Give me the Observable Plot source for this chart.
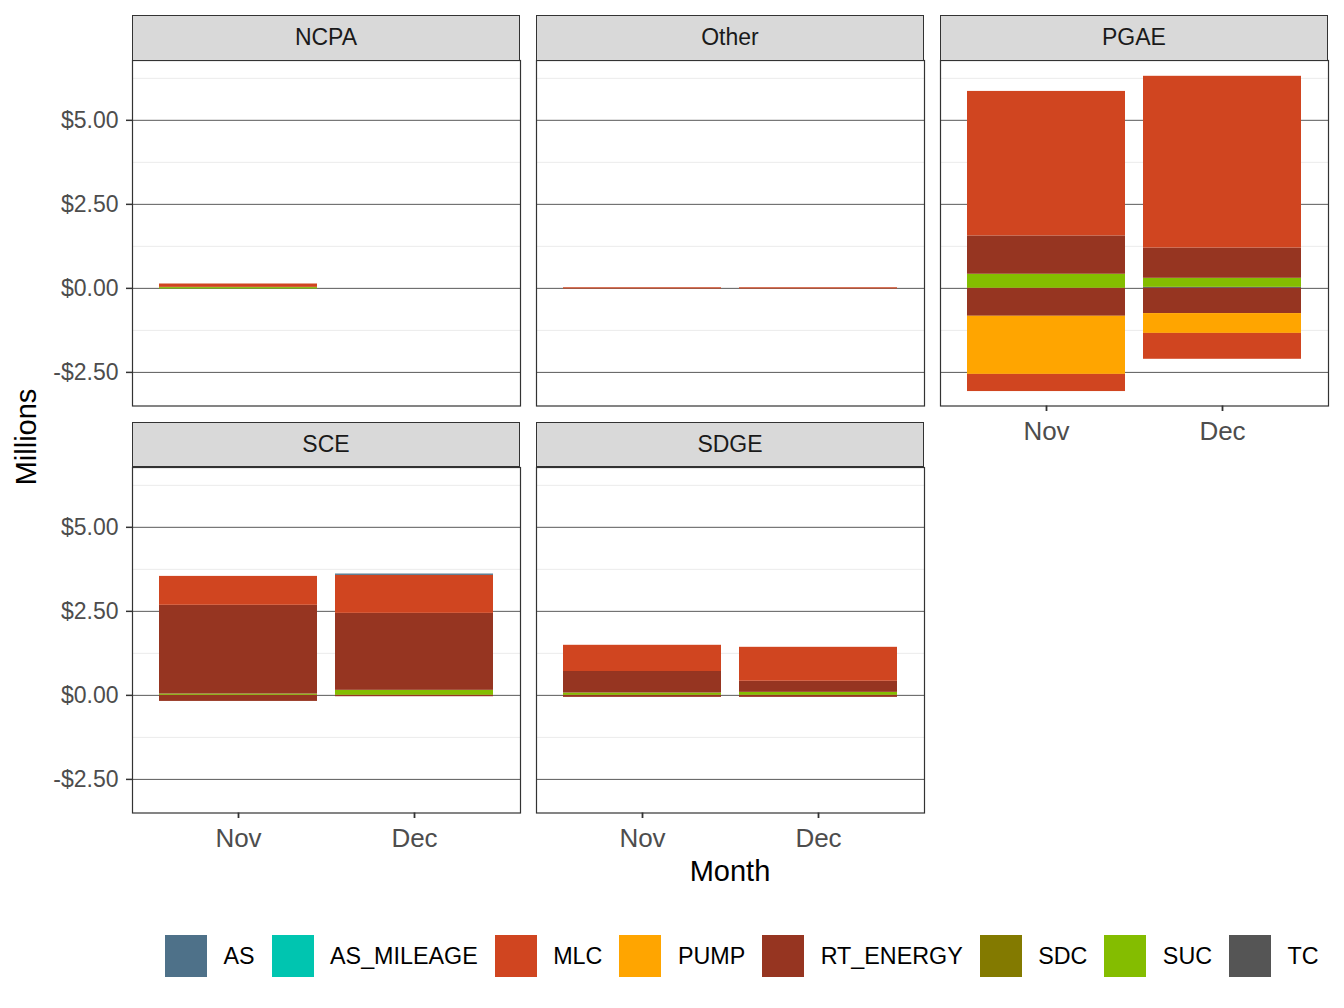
<!DOCTYPE html>
<html><head><meta charset="utf-8">
<script src="https://cdn.jsdelivr.net/npm/d3@7"></script>
<script src="https://cdn.jsdelivr.net/npm/@observablehq/plot@0.6"></script>
<style>
body{margin:0;background:#fff;font-family:"Liberation Sans",Arial,sans-serif;}
#root{position:relative;width:1344px;height:1008px;overflow:hidden;background:#fff;}
.strip{position:absolute;box-sizing:border-box;background:#d9d9d9;border:1.3px solid #333;display:flex;align-items:center;justify-content:center;font-size:23px;color:#1a1a1a;}
.abs{position:absolute;}
#legend{position:absolute;left:165px;top:935px;display:flex;align-items:center;font-size:23.3px;color:#000;white-space:nowrap;}
#legend .sw{width:42px;height:42px;margin-right:16.5px;}
#legend .lb{margin-right:17px;}
</style></head><body><div id="root"></div>
<script>
// ---- data ----
const months = ["Nov", "Dec"];
const regions = ["NCPA", "Other", "PGAE", "SCE", "SDGE"];
const charges = ["AS", "AS_MILEAGE", "MLC", "PUMP", "RT_ENERGY", "SDC", "SUC", "TC"];
const chargeColors = ["#4e7189", "#00c5b0", "#d04520", "#ffa500", "#963521", "#837a00", "#84bd00", "#555555"];
const stackOrder = ["TC", "SUC", "SDC", "RT_ENERGY", "PUMP", "MLC", "AS_MILEAGE", "AS"];
const yMajorTicks = [-2.5, 0, 2.5, 5];
const yMinorTicks = [-1.25, 1.25, 3.75, 6.25];
const yDomain = [-3.5, 6.78];

// stacked segments (millions of $)
const segRegion = [
  "NCPA", "NCPA", "NCPA",
  "Other", "Other", "Other", "Other",
  "PGAE", "PGAE", "PGAE", "PGAE", "PGAE", "PGAE",
  "PGAE", "PGAE", "PGAE", "PGAE", "PGAE", "PGAE", "PGAE",
  "SCE", "SCE", "SCE", "SCE",
  "SCE", "SCE", "SCE", "SCE", "SCE",
  "SDGE", "SDGE", "SDGE", "SDGE",
  "SDGE", "SDGE", "SDGE", "SDGE"
];
const segMonth = [
  "Nov", "Nov", "Nov",
  "Nov", "Nov", "Dec", "Dec",
  "Nov", "Nov", "Nov", "Nov", "Nov", "Nov",
  "Dec", "Dec", "Dec", "Dec", "Dec", "Dec", "Dec",
  "Nov", "Nov", "Nov", "Nov",
  "Dec", "Dec", "Dec", "Dec", "Dec",
  "Nov", "Nov", "Nov", "Nov",
  "Dec", "Dec", "Dec", "Dec"
];
const segCharge = [
  "SUC", "MLC", "SUC",
  "MLC", "MLC", "MLC", "MLC",
  "SUC", "RT_ENERGY", "MLC", "RT_ENERGY", "PUMP", "MLC",
  "TC", "SUC", "RT_ENERGY", "MLC", "RT_ENERGY", "PUMP", "MLC",
  "SUC", "RT_ENERGY", "MLC", "RT_ENERGY",
  "SUC", "RT_ENERGY", "MLC", "AS", "RT_ENERGY",
  "SUC", "RT_ENERGY", "MLC", "RT_ENERGY",
  "SUC", "RT_ENERGY", "MLC", "RT_ENERGY"
];
const segValue = [
  0.03, 0.10, -0.02,
  0.02, -0.02, 0.02, -0.02,
  0.42, 1.14, 4.30, -0.83, -1.73, -0.51,
  0.03, 0.27, 0.90, 5.11, -0.75, -0.59, -0.77,
  0.04, 2.64, 0.86, -0.18,
  0.15, 2.29, 1.13, 0.04, -0.04,
  0.07, 0.64, 0.78, -0.06,
  0.09, 0.33, 1.01, -0.06
];

const rows = segRegion.map((r, i) => ({region: r, month: segMonth[i], charge: segCharge[i], value: segValue[i], i}))
  .sort((a, b) => (stackOrder.indexOf(a.charge) - stackOrder.indexOf(b.charge)) || (a.i - b.i));

// ---- layout ----
const root = document.getElementById("root");
const colLeft = [132, 536, 940];
const panelW = 388;
const rowTop = [60, 466.5];
const stripTop = [15, 421.5];
const stripH = 45.5;
const panelH = 345.5;
const layout = {NCPA: [0, 0], Other: [0, 1], PGAE: [0, 2], SCE: [1, 0], SDGE: [1, 1]};
const withXAxis = ["PGAE", "SCE", "SDGE"];
const fmt = d => (d < 0 ? "-" : "") + "$" + Math.abs(d).toFixed(2);
const font = "'Liberation Sans', Arial, sans-serif";

for (const r of regions) {
  const [row, col] = layout[r];
  const hasX = withXAxis.includes(r);
  const hasY = col === 0;
  const mL = hasY ? 132 : 2, mR = 2, mT = 2, mB = hasX ? 52 : 2;
  const marks = [
    Plot.ruleY(yMinorTicks, {stroke: "#ebebeb", strokeWidth: 1}),
    Plot.ruleY(yMajorTicks, {stroke: "#5a5a5a", strokeWidth: 1}),
    Plot.barY(rows.filter(d => d.region === r), Plot.stackY({x: "month", y: "value", fill: "charge", inset: 0})),
    Plot.frame({stroke: "#333", strokeWidth: 1.2})
  ];
  if (hasY) marks.push(Plot.axisY(yMajorTicks, {tickFormat: fmt, tickSize: 6, tickPadding: 8, stroke: "#333", strokeWidth: 1.5, fill: "#4d4d4d", fontSize: 23, label: null}));
  if (hasX) marks.push(Plot.axisX({tickSize: 5.5, tickPadding: 10, stroke: "#333", strokeWidth: 1.8, fill: "#4d4d4d", fontSize: 26, label: null}));
  const xOpts = {type: "band", domain: months, paddingInner: 0.1, paddingOuter: 0.15};
  if (!hasX) xOpts.axis = null;
  const yOpts = {domain: yDomain};
  if (!hasY) yOpts.axis = null;
  const p = Plot.plot({
    width: panelW + mL + mR, height: panelH + mT + mB,
    marginLeft: mL, marginRight: mR, marginTop: mT, marginBottom: mB,
    x: xOpts, y: yOpts,
    color: {domain: charges, range: chargeColors},
    style: {fontFamily: font, background: "transparent", overflow: "visible"},
    marks
  });
  p.style.position = "absolute";
  p.style.left = (colLeft[col] - mL) + "px";
  p.style.top = (rowTop[row] - mT) + "px";
  root.appendChild(p);

  const s = document.createElement("div");
  s.className = "strip";
  s.style.left = colLeft[col] + "px";
  s.style.top = stripTop[row] + "px";
  s.style.width = panelW + "px";
  s.style.height = stripH + "px";
  s.textContent = r;
  root.appendChild(s);
}

// axis titles
const yt = document.createElement("div");
yt.className = "abs";
yt.textContent = "Millions";
Object.assign(yt.style, {left: (26 - 150) + "px", top: (437 - 17) + "px", width: "300px", height: "34px", lineHeight: "34px", textAlign: "center", fontSize: "29px", color: "#000", transform: "rotate(-90deg)", transformOrigin: "50% 50%"});
root.appendChild(yt);

const xt = document.createElement("div");
xt.className = "abs";
xt.textContent = "Month";
Object.assign(xt.style, {left: (730 - 150) + "px", top: "857px", width: "300px", lineHeight: "29px", textAlign: "center", fontSize: "29px", color: "#000"});
root.appendChild(xt);

// legend
const lg = document.createElement("div");
lg.id = "legend";
charges.forEach((c, i) => {
  const sw = document.createElement("div");
  sw.className = "sw";
  sw.style.background = chargeColors[i];
  const lb = document.createElement("div");
  lb.className = "lb";
  lb.textContent = c;
  lg.appendChild(sw);
  lg.appendChild(lb);
});
root.appendChild(lg);
</script></body></html>
